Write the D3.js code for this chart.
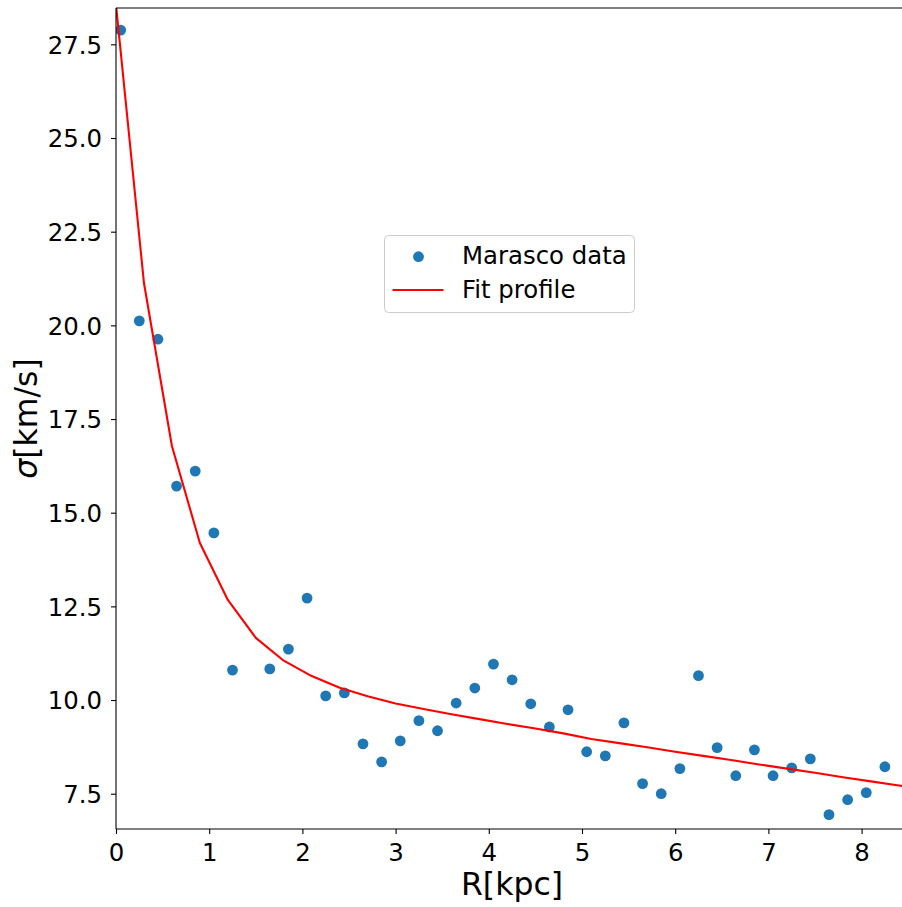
<!DOCTYPE html>
<html>
<head>
<meta charset="utf-8">
<script src="https://cdn.jsdelivr.net/npm/d3@7"></script>
<style>
html, body { margin: 0; padding: 0; overflow: hidden; background: #fff; }
svg { display: block; font-family: "DejaVu Sans", sans-serif; }
</style>
</head>
<body>
<svg id="chart" width="902" height="907"></svg>
<script>
// Data: Marasco data points
const dataR = [0.05, 0.25, 0.45, 0.65, 0.85, 1.05, 1.25, 1.65, 1.85, 2.05, 2.25, 2.45, 2.65, 2.85, 3.05, 3.25, 3.45, 3.65, 3.85, 4.05, 4.25, 4.45, 4.65, 4.85, 5.05, 5.25, 5.45, 5.65, 5.85, 6.05, 6.25, 6.45, 6.65, 6.85, 7.05, 7.25, 7.45, 7.65, 7.85, 8.05, 8.25];
const dataSigma = [27.88, 20.12, 19.63, 15.71, 16.11, 14.46, 10.80, 10.83, 11.36, 12.72, 10.11, 10.19, 8.83, 8.35, 8.91, 9.45, 9.18, 9.92, 10.32, 10.96, 10.54, 9.90, 9.28, 9.74, 8.62, 8.51, 9.39, 7.77, 7.50, 8.17, 10.65, 8.73, 7.98, 8.67, 7.98, 8.19, 8.43, 6.94, 7.34, 7.53, 8.22];

// Fit profile
const fitR = [0, 0.3, 0.6, 0.9, 1.2, 1.5, 1.8, 2.1, 2.4, 2.7, 3.0, 3.3, 3.6, 3.9, 4.2, 4.5, 4.8, 5.1, 5.4, 5.7, 6.0, 6.3, 6.6, 6.9, 7.2, 7.5, 7.8, 8.1, 8.4, 8.7];
const fitSigma = [28.55, 21.13, 16.78, 14.19, 12.67, 11.66, 11.05, 10.64, 10.33, 10.10, 9.91, 9.76, 9.62, 9.49, 9.36, 9.24, 9.11, 8.96, 8.85, 8.74, 8.62, 8.51, 8.40, 8.28, 8.17, 8.06, 7.94, 7.83, 7.72, 7.61];

const xTicks = [0, 1, 2, 3, 4, 5, 6, 7, 8];
const yTicks = [7.5, 10.0, 12.5, 15.0, 17.5, 20.0, 22.5, 25.0, 27.5];

const svg = d3.select("#chart");
const pLeft = 116, pTop = 8, pBottom = 829;
const xMax = 8.6;
const pRight = pLeft + 93.2 * xMax;
const tickFont = 24.4;

const x = d3.scaleLinear().domain([0, xMax]).range([pLeft, pRight]);
const y = d3.scaleLinear().domain([6.558, 28.47]).range([pBottom, pTop]);

svg.append("defs").append("clipPath").attr("id", "plotclip")
  .append("rect").attr("x", pLeft).attr("y", pTop).attr("width", pRight - pLeft).attr("height", pBottom - pTop);

const plot = svg.append("g").attr("clip-path", "url(#plotclip)");

// scatter
plot.selectAll("circle.pt").data(dataR.map((r, i) => [r, dataSigma[i]]))
  .enter().append("circle").attr("class", "pt")
  .attr("cx", d => x(d[0])).attr("cy", d => y(d[1])).attr("r", 5.4)
  .attr("fill", "#1f77b4");

// fit line
const line = d3.line().x(d => x(d[0])).y(d => y(d[1]));
plot.append("path").datum(fitR.map((r, i) => [r, fitSigma[i]]))
  .attr("d", line).attr("fill", "none").attr("stroke", "#ff0000").attr("stroke-width", 2.1)
  .attr("stroke-linejoin", "round");

// axes
const xAxis = d3.axisBottom(x).tickValues(xTicks).tickFormat(d3.format("d")).tickSizeOuter(0).tickSize(5).tickPadding(5);
const yAxis = d3.axisLeft(y).tickValues(yTicks).tickFormat(d3.format(".1f")).tickSizeOuter(0).tickSize(5).tickPadding(9);

const gx = svg.append("g").attr("transform", `translate(0,${pBottom})`).call(xAxis);
const gy = svg.append("g").attr("transform", `translate(${pLeft},0)`).call(yAxis);
[gx, gy].forEach(g => {
  g.selectAll("text").attr("font-size", tickFont).attr("font-family", "DejaVu Sans, sans-serif").attr("fill", "#000");
  g.selectAll("line").attr("stroke", "#000").attr("stroke-width", 1.1);
  g.select(".domain").remove();
});
gy.selectAll("text").attr("dy", "0.36em");
gx.selectAll("text").attr("dy", "0.9em");

// spines
const spine = svg.append("g").attr("stroke", "#000").attr("stroke-width", 1.1).attr("fill", "none");
spine.append("line").attr("x1", pLeft).attr("x2", pLeft).attr("y1", pTop).attr("y2", pBottom);
spine.append("line").attr("x1", pLeft).attr("x2", pRight).attr("y1", pBottom).attr("y2", pBottom);
spine.append("line").attr("x1", pLeft).attr("x2", pRight).attr("y1", pTop).attr("y2", pTop);

// axis labels
svg.append("text").attr("x", 512).attr("y", 895)
  .attr("text-anchor", "middle").attr("font-size", 31.5).text("R[kpc]");
const yl = svg.append("text").attr("transform", `translate(37,${(pTop + pBottom) / 2}) rotate(-90)`)
  .attr("text-anchor", "middle").attr("font-size", 31.5);
yl.append("tspan").attr("font-style", "italic").text("σ");
yl.append("tspan").text("[km/s]");

// legend
const lg = svg.append("g");
lg.append("rect").attr("x", 384.5).attr("y", 235.5).attr("width", 250).attr("height", 77)
  .attr("rx", 4).attr("fill", "#fff").attr("fill-opacity", 0.8).attr("stroke", "#cccccc").attr("stroke-width", 1);
lg.append("circle").attr("cx", 418.5).attr("cy", 256.7).attr("r", 5.4).attr("fill", "#1f77b4");
lg.append("line").attr("x1", 392.5).attr("x2", 443.5).attr("y1", 290).attr("y2", 290)
  .attr("stroke", "#ff0000").attr("stroke-width", 2.1);
lg.append("text").attr("x", 462).attr("y", 263.5).attr("font-size", tickFont).text("Marasco data");
lg.append("text").attr("x", 462).attr("y", 297.5).attr("font-size", tickFont).text("Fit profile");
</script>
</body>
</html>
